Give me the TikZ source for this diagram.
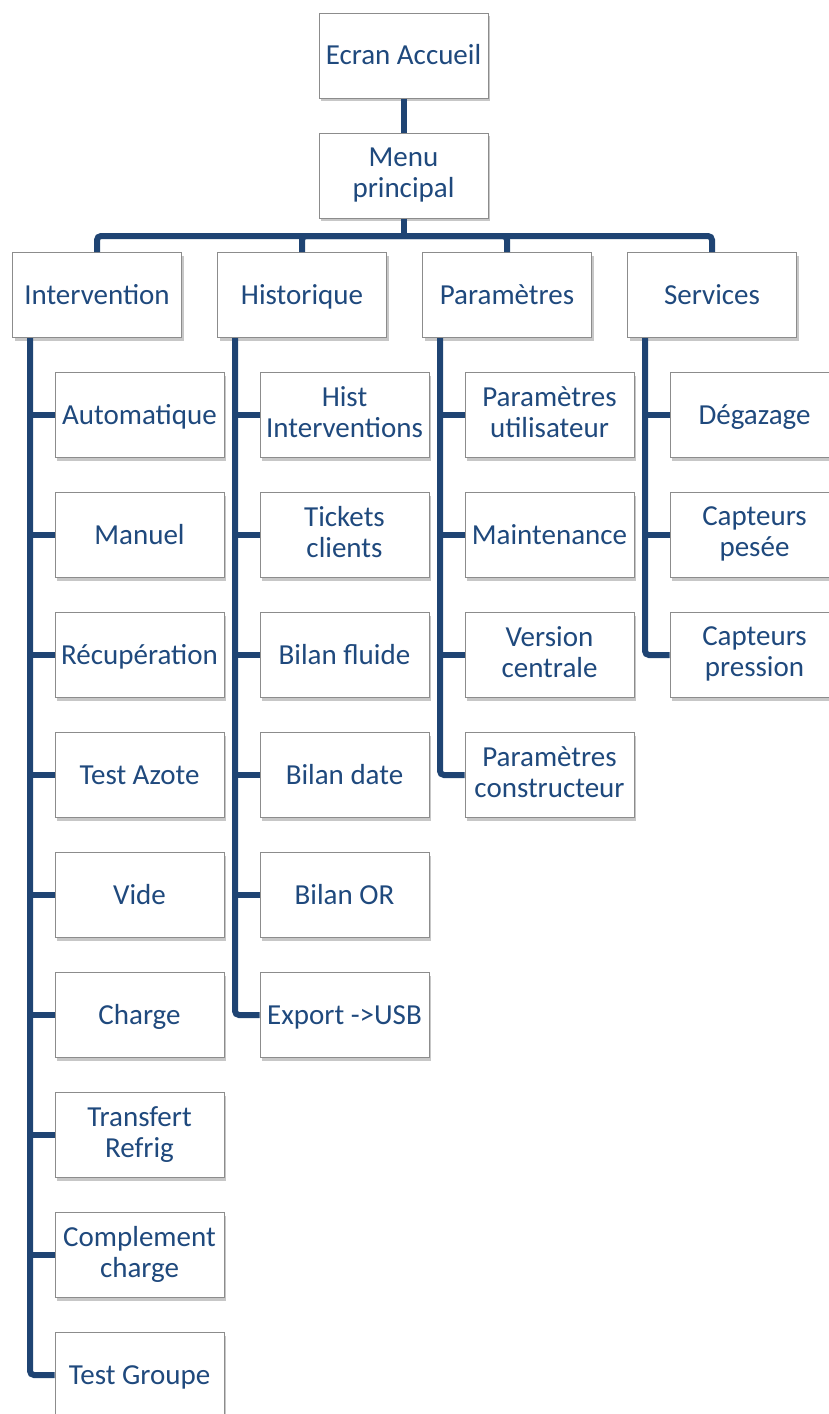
\documentclass[tikz,border=0pt]{standalone}
\usepackage{fontspec}
\setmainfont{Carlito}
\usetikzlibrary{shadows}
\definecolor{txtblue}{HTML}{1F497D}
\definecolor{lineblue}{HTML}{1F4473}
\definecolor{boxgray}{HTML}{8C8C8C}
\newcommand{\mystrut}{\rule[-6.5pt]{0pt}{31pt}}
\tikzset{
  box/.style={draw=boxgray, line width=1pt, fill=white, minimum width=169pt, minimum height=85pt,
    inner sep=2pt, align=center, text=txtblue, font=\fontsize{29}{31}\selectfont,
    execute at begin node=\mystrut, execute at end node=\mystrut,
    drop shadow={shadow xshift=2pt, shadow yshift=-3pt, fill=black, opacity=0.22}},
  conn/.style={draw=lineblue, line width=6pt, rounded corners=4pt},
}
\begin{document}
\begin{tikzpicture}[x=1pt,y=-1pt]
\useasboundingbox (0,0) rectangle (829,1414);
\begin{scope}
\clip (0,0) rectangle (829,1414);
% top
\node[box] (ecran) at (403.5,55.5) {Ecran Accueil};
\node[box] (menu) at (403.5,175.5) {Menu\\principal};
% headers
\node[box] (interv) at (97,295) {Intervention};
\node[box] (hist) at (302,295) {Historique};
\node[box] (param) at (507,295) {Paramètres};
\node[box] (serv) at (712,295) {Services};
% Intervention children
\node[box] (i1) at (139.5,415) {Automatique};
\node[box] (i2) at (139.5,535) {Manuel};
\node[box] (i3) at (139.5,655) {Récupération};
\node[box] (i4) at (139.5,775) {Test Azote};
\node[box] (i5) at (139.5,895) {Vide};
\node[box] (i6) at (139.5,1015) {Charge};
\node[box] (i7) at (139.5,1135) {Transfert\\Refrig};
\node[box] (i8) at (139.5,1255) {Complement\\charge};
\node[box] (i9) at (139.5,1375) {Test Groupe};
% Historique children
\node[box] (h1) at (344.5,415) {Hist\\Interventions};
\node[box] (h2) at (344.5,535) {Tickets\\clients};
\node[box] (h3) at (344.5,655) {Bilan fluide};
\node[box] (h4) at (344.5,775) {Bilan date};
\node[box] (h5) at (344.5,895) {Bilan OR};
\node[box] (h6) at (344.5,1015) {Export ->USB};
% Parametres children
\node[box] (p1) at (549.5,415) {Paramètres\\utilisateur};
\node[box] (p2) at (549.5,535) {Maintenance};
\node[box] (p3) at (549.5,655) {Version\\centrale};
\node[box] (p4) at (549.5,775) {Paramètres\\constructeur};
% Services children
\node[box] (s1) at (754.5,415) {Dégazage};
\node[box] (s2) at (754.5,535) {Capteurs\\pesée};
\node[box] (s3) at (754.5,655) {Capteurs\\pression};
% connectors top
\coordinate (bus) at (403.5,236);
\draw[conn] (ecran.south) -- (menu.north);
\draw[conn] (menu.south) -- (bus);
\draw[conn] (interv.north) |- (bus) -| (serv.north);
\draw[conn] (hist.north) |- (bus);
\draw[conn] (param.north) |- (bus);
% trunks
\coordinate (it) at ([xshift=18pt]interv.south west);
\coordinate (ht) at ([xshift=18pt]hist.south west);
\coordinate (pt) at ([xshift=18pt]param.south west);
\coordinate (st) at ([xshift=18pt]serv.south west);
\draw[conn] (it) |- (i9.west);
\foreach \n in {i1,i2,i3,i4,i5,i6,i7,i8} \draw[conn] (it |- \n.west) -- (\n.west);
\draw[conn] (ht) |- (h6.west);
\foreach \n in {h1,h2,h3,h4,h5} \draw[conn] (ht |- \n.west) -- (\n.west);
\draw[conn] (pt) |- (p4.west);
\foreach \n in {p1,p2,p3} \draw[conn] (pt |- \n.west) -- (\n.west);
\draw[conn] (st) |- (s3.west);
\foreach \n in {s1,s2} \draw[conn] (st |- \n.west) -- (\n.west);
\end{scope}
\end{tikzpicture}
\end{document}
